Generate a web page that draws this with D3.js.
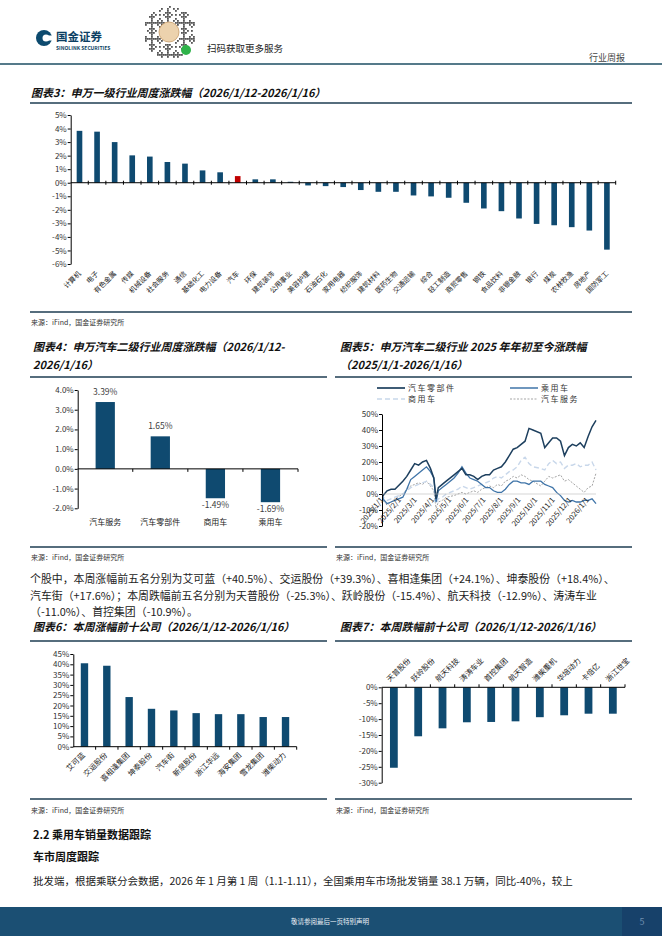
<!DOCTYPE html>
<html><head><meta charset="utf-8">
<script src="https://cdn.jsdelivr.net/npm/d3@7"></script>
<style>
body{margin:0;background:#fff;}
svg{display:block;}
text{font-family:"Noto Sans CJK SC",sans-serif;}
</style></head><body>
<div id="page"></div>
<script>
// 图表3 申万一级行业
const industries = ["计算机","电子","有色金属","传媒","机械设备","社会服务","通信","基础化工","电力设备","汽车","环保","建筑装饰","公用事业","美容护理","石油石化","家用电器","纺织服饰","建筑材料","医药生物","交通运输","综合","轻工制造","商贸零售","钢铁","食品饮料","非银金融","银行","煤炭","农林牧渔","房地产","国防军工"];
const industryChg = [3.83,3.77,3.0,2.02,1.93,1.53,1.41,0.91,0.77,0.49,0.25,0.25,0.07,-0.2,-0.25,-0.32,-0.54,-0.67,-0.67,-0.94,-1.01,-1.11,-1.48,-1.9,-2.1,-2.64,-3.04,-3.14,-3.28,-3.53,-4.94];
const industryTicks = [-6,-5,-4,-3,-2,-1,0,1,2,3,4,5];

// 图表4 汽车二级行业周度
const subIndustries = ["汽车服务","汽车零部件","商用车","乘用车"];
const subChg = [3.39,1.65,-1.49,-1.69];
const subTicks = [-2,-1,0,1,2,3,4];

// 图表5 年初至今
const lineDates = ["2025-01-02","2025-01-03","2025-01-10","2025-01-17","2025-01-24","2025-02-07","2025-02-14","2025-02-21","2025-02-28","2025-03-07","2025-03-14","2025-03-21","2025-03-28","2025-04-03","2025-04-07","2025-04-11","2025-04-18","2025-04-25","2025-05-09","2025-05-16","2025-05-23","2025-05-30","2025-06-06","2025-06-13","2025-06-20","2025-06-27","2025-07-04","2025-07-11","2025-07-18","2025-07-25","2025-08-01","2025-08-08","2025-08-15","2025-08-22","2025-08-29","2025-09-05","2025-09-12","2025-09-19","2025-09-26","2025-10-10","2025-10-17","2025-10-24","2025-10-31","2025-11-07","2025-11-14","2025-11-21","2025-11-28","2025-12-05","2025-12-12","2025-12-19","2025-12-26","2026-01-02","2026-01-09","2026-01-16"];
const partsYtd = [0,-1,2,3,3, 8,11,15,19, 18,20,21,16, 10,-3,4,6,8, 12,14,16,12, 12,11,9,11, 12,12,15,16, 17,20,24,28,29, 31,33,41,40, 38,29,32,35, 35,33,24,29, 31,30,32,29, 36,42,46];
const passengerYtd = [0,-3,-6,-5,-4, -2,3,9,11, 13,15,17,14, 10,-5,2,4,6, 10,13,17,13, 10,9,8,6, 4,4,2,1, 1,3,6,8,8, 7,7,6,8, 8,6,5,4, 1,-1,-4,-5, -4,-5,-5,-4, -4,-3,-6];
const commercialYtd = [0,-2,-4,-3,-2, 0,2,4,5, 6,7,8,6, 4,-6,-3,-2,0, 2,3,5,4, 3,4,5,6, 7,8,10,11, 10,12,14,15,17, 21,23,19,17, 16,15,19,21, 19,20,16,18, 18,19,17,18, 18,20,15];
const serviceYtd = [0,-4,-7,-5,-3, 0,3,5,6, 7,6,8,5, 2,-9,-5,-4,-2, -1,0,1,0, 1,2,1,3, 4,5,4,6, 5,8,9,11,10, 12,11,9,8, 5,8,11,10, 11,12,8,9, 7,5,3,1, 4,5,13];
const monthTicks = ["2025-01-01","2025-02-01","2025-03-01","2025-04-01","2025-05-01","2025-06-01","2025-07-01","2025-08-01","2025-09-01","2025-10-01","2025-11-01","2025-12-01","2026-01-01"];
const ytdTicks = [-20,-10,0,10,20,30,40,50];

// 图表6/7 涨跌幅前十
const gainers = ["艾可蓝","交运股份","喜相逢集团","坤泰股份","汽车街","新泉股份","浙江华远","海安集团","雪龙集团","潍柴动力"];
const gainChg = [40.5,39.3,24.1,18.4,17.6,16.3,15.8,15.8,14.4,14.4];
const gainTicks = [0,5,10,15,20,25,30,35,40,45];
const losers = ["天普股份","跃岭股份","航天科技","涛涛车业","首控集团","航天智造","潍柴重机","华培动力","卡倍亿","浙江世宝"];
const loseChg = [-25.3,-15.4,-12.9,-11.0,-10.9,-10.7,-9.4,-8.8,-8.3,-8.3];
const loseTicks = [-30,-25,-20,-15,-10,-5,0];

const navy = "#0f4a70", rule = "#1e3d52", numFont = "Liberation Sans, Arial, sans-serif";

const svg = d3.select("#page").append("svg").attr("width", 662).attr("height", 936);

// ---- header
const logo = svg.append("g");
logo.append("circle").attr("cx", 44).attr("cy", 38).attr("r", 8).attr("fill", "#0c4a6e");
logo.append("circle").attr("cx", 46).attr("cy", 38).attr("r", 3.5).attr("fill", "#fff");
logo.append("rect").attr("x", 47).attr("y", 35.5).attr("width", 6).attr("height", 5).attr("fill", "#fff");
logo.append("text").attr("x", 56).attr("y", 41).attr("font-size", 11.5).attr("font-weight", 700).attr("fill", "#0c3f63").text("国金证券");
logo.append("text").attr("x", 56).attr("y", 50).attr("font-size", 5).attr("font-weight", 700).attr("fill", "#0c3f63")
  .attr("font-family", numFont).text("SINOLINK SECURITIES");

// decorative QR
const qr = svg.append("g");
for (let i = -13; i <= 13; i++) {
  for (let j = -13; j <= 13; j++) {
    const r = Math.hypot(i, j);
    if (r > 13 || r < 5.5) continue;
    if (((i * 7 + j * 11 + i * j * 3) & 7) < 3)
      qr.append("rect").attr("x", 169 + i * 2).attr("y", 32 + j * 2).attr("width", 1.8).attr("height", 1.8).attr("fill", "#555");
  }
}
qr.append("circle").attr("cx", 169).attr("cy", 32).attr("r", 10).attr("fill", "#ecd2ad").attr("stroke", "#c69a66").attr("stroke-width", 0.8);
qr.append("circle").attr("cx", 186).attr("cy", 50).attr("r", 5).attr("fill", "#2fb34a");
svg.append("text").attr("x", 207).attr("y", 52).attr("font-size", 9.5).attr("fill", "#222").text("扫码获取更多服务");
svg.append("text").attr("x", 625).attr("y", 61).attr("text-anchor", "end").attr("font-size", 9).attr("fill", "#444").text("行业周报");
svg.append("line").attr("x1", 0).attr("x2", 662).attr("y1", 64).attr("y2", 64).attr("stroke", "#1d4e63").attr("stroke-width", 1.5);

// ---- helpers
function title(x, y, str) {
  svg.append("text").attr("x", x).attr("y", y).attr("font-size", 11).attr("font-weight", 700)
    .attr("font-style", "italic").attr("fill", "#111").text(str);
}
function hrule(x1, x2, y) {
  svg.append("line").attr("x1", x1).attr("x2", x2).attr("y1", y).attr("y2", y).attr("stroke", rule).attr("stroke-width", 1.4);
}
function source(x, y) {
  svg.append("text").attr("x", x).attr("y", y).attr("font-size", 7).attr("fill", "#333").text("来源：iFind，国金证券研究所");
}
function yAxis(scale, x, ticks, fmt) {
  const a = svg.append("g").attr("transform", `translate(${x},0)`)
    .call(d3.axisLeft(scale).tickValues(ticks).tickFormat(fmt).tickSize(3).tickSizeOuter(0));
  a.attr("font-family", numFont).attr("font-size", 8);
  a.select(".domain").attr("stroke", "#000");
  a.selectAll(".tick line").attr("stroke", "#000");
  a.selectAll(".tick text").attr("fill", "#333").attr("x", -4);
  return a;
}
function zeroAxis(xs, y0, up, down) {
  const [r0, r1] = xs.range();
  svg.append("line").attr("x1", r0).attr("x2", r1).attr("y1", y0).attr("y2", y0).attr("stroke", "#000");
  const n = xs.domain().length;
  for (let i = 1; i <= n; i++) {
    const tx = r0 + i * xs.step();
    svg.append("line").attr("x1", tx).attr("x2", tx).attr("y1", y0 - up).attr("y2", y0 + down).attr("stroke", "#000");
  }
}
function band(domain, r0, r1, pad) {
  return d3.scaleBand().domain(domain).range([r0, r1]).paddingInner(pad).paddingOuter(pad / 2);
}

// ---- 图表3
title(31, 97, "图表3：申万一级行业周度涨跌幅（2026/1/12-2026/1/16）");
hrule(30, 632, 103);
{
  const y = d3.scaleLinear().domain([-6, 5]).range([264, 115]);
  const x = band(industries, 70.7, 615.7, 0.68);
  svg.append("g").selectAll("rect").data(industries).join("rect")
    .attr("x", d => x(d)).attr("width", x.bandwidth())
    .attr("y", (d, i) => y(Math.max(0, industryChg[i])))
    .attr("height", (d, i) => Math.abs(y(industryChg[i]) - y(0)))
    .attr("fill", d => d === "汽车" ? "#c00000" : navy);
  yAxis(y, 70.7, industryTicks, d => d + "%");
  zeroAxis(x, y(0), 2, 2);
  svg.append("g").selectAll("text").data(industries).join("text")
    .attr("transform", d => `translate(${x(d) + x.bandwidth() / 2 + 2},${y(-6) + 10}) rotate(-45)`)
    .attr("text-anchor", "end").attr("font-size", 7).attr("fill", "#222").text(d => d);
}
hrule(30, 632, 312);
source(31, 325);

// ---- 图表4
title(33, 351, "图表4：申万汽车二级行业周度涨跌幅（2026/1/12-");
title(33, 369, "2026/1/16）");
hrule(30, 327, 377);
{
  const y = d3.scaleLinear().domain([-2, 4]).range([508.3, 390]);
  const x = band(subIndustries, 77.7, 298, 0.65);
  svg.append("g").selectAll("rect").data(subIndustries).join("rect")
    .attr("x", d => x(d)).attr("width", x.bandwidth())
    .attr("y", (d, i) => y(Math.max(0, subChg[i])))
    .attr("height", (d, i) => Math.abs(y(subChg[i]) - y(0)))
    .attr("fill", navy);
  yAxis(y, 77.7, subTicks, d => d.toFixed(1) + "%");
  zeroAxis(x, y(0), 0, 3);
  svg.append("g").selectAll("text").data(subIndustries).join("text")
    .attr("x", d => x(d) + x.bandwidth() / 2)
    .attr("y", (d, i) => subChg[i] >= 0 ? y(subChg[i]) - 7 : y(subChg[i]) + 10)
    .attr("text-anchor", "middle").attr("font-family", numFont).attr("font-size", 8.5).attr("fill", "#404040")
    .text((d, i) => subChg[i].toFixed(2) + "%");
  svg.append("g").selectAll("text").data(subIndustries).join("text")
    .attr("x", d => x(d) + x.bandwidth() / 2).attr("y", 525)
    .attr("text-anchor", "middle").attr("font-size", 8).attr("fill", "#222").text(d => d);
}
hrule(30, 327, 547);
source(31, 560);

// ---- 图表5
title(340, 351, "图表5：申万汽车二级行业 2025 年年初至今涨跌幅");
title(340, 369, "（2025/1/1-2026/1/16）");
hrule(335, 632, 377);
{
  const parse = d3.timeParse("%Y-%m-%d");
  const dates = lineDates.map(parse);
  const x = d3.scaleTime().domain([parse("2025-01-01"), parse("2026-01-16")]).range([382, 596]);
  const y = d3.scaleLinear().domain([-20, 50]).range([526, 414]);
  const series = [
    {name: "汽车服务", vals: serviceYtd, color: "#a6a6a6", dash: "2,1.5", w: 1},
    {name: "商用车", vals: commercialYtd, color: "#c8d7ea", dash: "5,3", w: 1.4},
    {name: "乘用车", vals: passengerYtd, color: "#3f74a8", dash: null, w: 1.3},
    {name: "汽车零部件", vals: partsYtd, color: "#1d3f5e", dash: null, w: 1.5}
  ];
  const line = d3.line().x((d, i) => x(dates[i])).y(d => y(d));
  series.forEach(s => {
    svg.append("path").datum(s.vals).attr("d", line).attr("fill", "none")
      .attr("stroke", s.color).attr("stroke-width", s.w).attr("stroke-dasharray", s.dash);
  });
  yAxis(y, 382, ytdTicks, d => d + "%");
  svg.append("line").attr("x1", 382).attr("x2", 596).attr("y1", y(0)).attr("y2", y(0)).attr("stroke", "#bbb").attr("stroke-width", 0.6);
  const tf = d3.timeFormat("%Y/%-m/%-d");
  svg.append("g").selectAll("text").data(monthTicks.map(parse)).join("text")
    .attr("transform", d => `translate(${x(d) + 2},${y(0) + 6}) rotate(-50)`)
    .attr("text-anchor", "end").attr("font-family", numFont).attr("font-size", 7.5).attr("fill", "#222").text(d => tf(d));
  // legend
  const leg = [
    {s: series[3], lx: 377, ly: 388},
    {s: series[2], lx: 510, ly: 388},
    {s: series[1], lx: 377, ly: 399},
    {s: series[0], lx: 510, ly: 399}
  ];
  leg.forEach(l => {
    svg.append("line").attr("x1", l.lx).attr("x2", l.lx + 28).attr("y1", l.ly).attr("y2", l.ly)
      .attr("stroke", l.s.color).attr("stroke-width", l.s.w + 0.2).attr("stroke-dasharray", l.s.dash);
    svg.append("text").attr("x", l.lx + 31).attr("y", l.ly + 3).attr("font-size", 8).attr("letter-spacing", 1.5)
      .attr("fill", "#333").text(l.s.name);
  });
}
hrule(335, 632, 547);
source(336, 560);

// ---- paragraph
const para = [
  "个股中，本周涨幅前五名分别为艾可蓝（+40.5%）、交运股份（+39.3%）、喜相逢集团（+24.1%）、坤泰股份（+18.4%）、",
  "汽车街（+17.6%）；本周跌幅前五名分别为天普股份（-25.3%）、跃岭股份（-15.4%）、航天科技（-12.9%）、涛涛车业",
  "（-11.0%）、首控集团（-10.9%）。"
];
para.forEach((t, i) => {
  svg.append("text").attr("x", 30).attr("y", 583 + i * 16.5).attr("font-size", 10.9).attr("fill", "#222").text(t);
});

// ---- 图表6
title(33, 631, "图表6：本周涨幅前十公司（2026/1/12-2026/1/16）");
hrule(30, 327, 641);
{
  const y = d3.scaleLinear().domain([0, 45]).range([746.7, 654]);
  const x = band(gainers, 73.3, 296.7, 0.67);
  svg.append("g").selectAll("rect").data(gainers).join("rect")
    .attr("x", d => x(d)).attr("width", x.bandwidth())
    .attr("y", (d, i) => y(gainChg[i])).attr("height", (d, i) => y(0) - y(gainChg[i]))
    .attr("fill", navy);
  yAxis(y, 73.3, gainTicks, d => d + "%");
  zeroAxis(x, y(0), 0, 3);
  svg.append("g").selectAll("text").data(gainers).join("text")
    .attr("transform", d => `translate(${x(d) + x.bandwidth() / 2 + 1},${y(0) + 9}) rotate(-45)`)
    .attr("text-anchor", "end").attr("font-size", 7.5).attr("fill", "#222").text(d => d);
}
hrule(30, 327, 799);
source(31, 813);

// ---- 图表7
title(340, 631, "图表7：本周跌幅前十公司（2026/1/12-2026/1/16）");
hrule(335, 632, 641);
{
  const y = d3.scaleLinear().domain([-30, 0]).range([782.7, 687.3]);
  const x = band(losers, 381.7, 625, 0.68);
  svg.append("g").selectAll("rect").data(losers).join("rect")
    .attr("x", d => x(d)).attr("width", x.bandwidth())
    .attr("y", y(0)).attr("height", (d, i) => y(loseChg[i]) - y(0))
    .attr("fill", navy);
  yAxis(y, 381.7, loseTicks, d => d + "%");
  zeroAxis(x, y(0), 3, 0);
  svg.append("g").selectAll("text").data(losers).join("text")
    .attr("transform", d => `translate(${x(d) + x.bandwidth() / 2 - 4},${y(0) - 5}) rotate(-45)`)
    .attr("text-anchor", "start").attr("font-size", 7.5).attr("fill", "#222").text(d => d);
}
hrule(335, 632, 799);
source(336, 813);

// ---- section text
svg.append("text").attr("x", 33).attr("y", 839).attr("font-size", 11).attr("font-weight", 700).attr("fill", "#111").text("2.2 乘用车销量数据跟踪");
svg.append("text").attr("x", 33).attr("y", 861).attr("font-size", 11).attr("font-weight", 700).attr("fill", "#111").text("车市周度跟踪");
svg.append("text").attr("x", 33).attr("y", 885).attr("font-size", 10.5).attr("fill", "#222")
  .text("批发端，根据乘联分会数据，2026 年 1 月第 1 周（1.1-1.11），全国乘用车市场批发销量 38.1 万辆，同比-40%，较上");

// ---- footer
svg.append("rect").attr("x", 0).attr("y", 907).attr("width", 662).attr("height", 29).attr("fill", "#1b4f73");
svg.append("rect").attr("x", 622).attr("y", 907).attr("width", 40).attr("height", 29).attr("fill", "#17416a");
svg.append("text").attr("x", 330).attr("y", 924).attr("text-anchor", "middle").attr("font-size", 6.5).attr("fill", "#e8eef4").text("敬请参阅最后一页特别声明");
svg.append("text").attr("x", 642).attr("y", 925).attr("text-anchor", "middle").attr("font-family", numFont).attr("font-size", 9).attr("fill", "#6f8fb0").text("5");
</script>
</body></html>
